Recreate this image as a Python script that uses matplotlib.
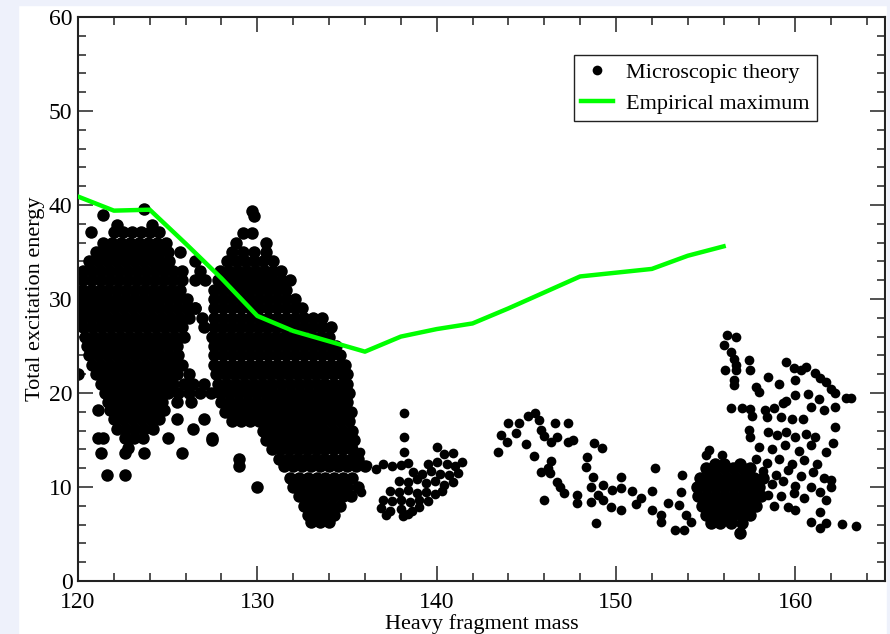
import numpy as np
import matplotlib as mpl
mpl.use('agg')
import matplotlib.pyplot as plt
from matplotlib.patches import Rectangle
from matplotlib.ticker import MultipleLocator

plt.rcParams['font.family'] = ['Liberation Serif', 'DejaVu Serif']

# empirical maximum (green line)
emp_mass = [120, 122, 124, 126, 128, 130, 132, 134, 136, 138, 140, 142, 144, 146, 148, 150, 152, 154, 156]
emp_energy = [40.9, 39.4, 39.5, 35.9, 32.2, 28.2, 26.6, 25.5, 24.4, 26.0, 26.8, 27.4, 29.0, 30.7, 32.4, 32.8, 33.2, 34.6, 35.6]

# microscopic theory, dense parts read row by row: (energy, [masses...])
cluster_a = [
    (39.6, [123.7]),
    (38.9, [121.4]),
    (37.9, [122.2, 124.1]),
    (37.1, [120.7, 122.0, 122.5, 123.0, 123.5, 124.0, 124.5]),
    (36.0, [121.4, 121.9, 122.4, 122.9, 123.4, 123.9, 124.4, 124.9]),
    (35.0, [121.0, 121.5, 122.0, 122.5, 123.0, 123.5, 124.0, 124.5, 125.0, 125.7]),
    (34.0, [120.6, 121.1, 121.6, 122.1, 122.6, 123.1, 123.6, 124.1, 124.6, 125.1, 126.5]),
    (33.0, [120.3, 120.8, 121.3, 121.8, 122.3, 122.8, 123.3, 123.8, 124.3, 124.8, 125.3, 125.8]),
    (32.0, [120.3, 120.8, 121.3, 121.8, 122.3, 122.8, 123.3, 123.8, 124.3, 124.8, 125.3, 125.8, 126.5, 127.1]),
    (31.0, [120.2, 120.7, 121.2, 121.7, 122.2, 122.7, 123.2, 123.7, 124.2, 124.7, 125.2, 125.7]),
    (30.0, [120.1, 120.6, 121.1, 121.6, 122.1, 122.6, 123.1, 123.6, 124.1, 124.6, 125.1, 125.6, 126.1]),
    (29.0, [120.0, 120.5, 121.0, 121.5, 122.0, 122.5, 123.0, 123.5, 124.0, 124.5, 125.0, 125.5, 126.0, 126.5]),
    (28.0, [120.2, 120.7, 121.2, 121.7, 122.2, 122.7, 123.2, 123.7, 124.2, 124.7, 125.2, 125.7, 126.2, 126.9]),
    (27.0, [120.3, 120.8, 121.3, 121.8, 122.3, 122.8, 123.3, 123.8, 124.3, 124.8, 125.3, 125.8]),
    (26.0, [120.4, 120.9, 121.4, 121.9, 122.4, 122.9, 123.4, 123.9, 124.4, 124.9, 125.4, 125.9]),
    (25.0, [120.5, 121.0, 121.5, 122.0, 122.5, 123.0, 123.5, 124.0, 124.5, 125.0, 125.5]),
    (24.0, [120.6, 121.1, 121.6, 122.1, 122.6, 123.1, 123.6, 124.1, 124.6, 125.1, 125.6]),
    (23.0, [120.8, 121.3, 121.8, 122.3, 122.8, 123.3, 123.8, 124.3, 124.8, 125.3, 125.8]),
    (22.0, [120.0, 121.0, 121.5, 122.0, 122.5, 123.0, 123.5, 124.0, 124.5, 125.0, 125.5, 126.2]),
    (21.0, [121.3, 121.8, 122.3, 122.8, 123.3, 123.8, 124.3, 124.8, 125.3, 125.9, 126.4, 127.0]),
    (20.0, [121.5, 122.0, 122.5, 123.0, 123.5, 124.0, 124.5, 125.0, 125.6, 126.2, 126.8, 127.4]),
    (19.0, [121.7, 122.2, 122.7, 123.2, 123.7, 124.2, 124.7, 125.5, 126.3]),
    (18.2, [121.1, 121.8, 122.3, 122.8, 123.3, 123.8, 124.3, 124.8]),
    (17.2, [122.0, 122.5, 123.0, 123.5, 124.0, 124.5, 125.5, 127.0]),
    (16.2, [122.2, 122.7, 123.2, 123.7, 124.2, 126.4]),
    (15.2, [121.1, 121.4, 122.6, 123.1, 123.6, 125.0, 127.5]),
    (14.2, [122.8]),
    (13.6, [121.3, 122.6, 123.7, 125.8]),
    (11.3, [121.6, 122.6]),
]

cluster_b = [
    (39.4, [129.7]),
    (38.8, [129.8]),
    (37.0, [129.2, 129.7]),
    (36.0, [128.8, 130.5]),
    (35.0, [128.6, 129.2, 129.8, 130.5]),
    (34.0, [128.3, 128.8, 129.3, 129.8, 130.3, 130.9]),
    (33.0, [126.8, 127.9, 128.4, 128.9, 129.4, 129.9, 130.4, 130.9, 131.3]),
    (32.0, [127.8, 128.3, 128.8, 129.3, 129.8, 130.3, 130.8, 131.3, 131.8]),
    (31.0, [127.6, 128.1, 128.6, 129.1, 129.6, 130.1, 130.6, 131.1, 131.6]),
    (30.0, [127.6, 128.1, 128.6, 129.1, 129.6, 130.1, 130.6, 131.1, 131.6, 132.1]),
    (29.0, [126.5, 127.6, 128.1, 128.6, 129.1, 129.6, 130.1, 130.6, 131.1, 131.6, 132.1, 132.5]),
    (28.0, [127.6, 128.1, 128.6, 129.1, 129.6, 130.1, 130.6, 131.1, 131.6, 132.1, 132.6, 133.1, 133.6]),
    (27.0, [127.0, 127.6, 128.1, 128.6, 129.1, 129.6, 130.1, 130.6, 131.1, 131.6, 132.1, 132.6, 133.1, 133.6, 134.1]),
    (26.0, [127.5, 128.0, 128.5, 129.0, 129.5, 130.0, 130.5, 131.0, 131.5, 132.0, 132.5, 133.0, 133.5, 134.0]),
    (25.0, [127.6, 128.1, 128.6, 129.1, 129.6, 130.1, 130.6, 131.1, 131.6, 132.1, 132.6, 133.1, 133.6, 134.1, 134.4]),
    (24.0, [127.6, 128.1, 128.6, 129.1, 129.6, 130.1, 130.6, 131.1, 131.6, 132.1, 132.6, 133.1, 133.6, 134.1, 134.6]),
    (23.0, [127.6, 128.1, 128.6, 129.1, 129.6, 130.1, 130.6, 131.1, 131.6, 132.1, 132.6, 133.1, 133.6, 134.1, 134.6, 134.9]),
    (22.0, [127.7, 128.2, 128.7, 129.2, 129.7, 130.2, 130.7, 131.2, 131.7, 132.2, 132.7, 133.2, 133.7, 134.2, 134.7, 135.0]),
    (21.0, [127.8, 128.3, 128.8, 129.3, 129.8, 130.3, 130.8, 131.3, 131.8, 132.3, 132.8, 133.3, 133.8, 134.3, 134.8, 135.0]),
    (20.0, [127.9, 128.4, 128.9, 129.4, 129.9, 130.4, 130.9, 131.4, 131.9, 132.4, 132.9, 133.4, 133.9, 134.4, 134.9, 135.1]),
    (19.0, [128.0, 128.5, 129.0, 129.5, 130.0, 130.5, 131.0, 131.5, 132.0, 132.5, 133.0, 133.5, 134.0, 134.5, 135.0]),
    (18.0, [128.2, 128.7, 129.2, 129.7, 130.2, 130.7, 131.2, 131.7, 132.2, 132.7, 133.2, 133.7, 134.2, 134.7, 135.2]),
    (17.0, [128.6, 129.1, 129.6, 130.1, 130.6, 131.1, 131.6, 132.1, 132.6, 133.1, 133.6, 134.1, 134.6, 135.1]),
    (16.0, [130.3, 130.8, 131.3, 131.8, 132.3, 132.8, 133.3, 133.8, 134.3, 134.8, 135.3]),
    (15.0, [127.5, 130.5, 131.0, 131.5, 132.0, 132.5, 133.0, 133.5, 134.0, 134.5, 135.0, 135.4]),
    (14.0, [130.8, 131.3, 131.8, 132.3, 132.8, 133.3, 133.8, 134.3, 134.8, 135.3]),
    (13.0, [129.0, 131.2, 131.7, 132.2, 132.7, 133.2, 133.7, 134.2, 134.7, 135.2, 135.6]),
    (12.2, [129.0, 131.5, 132.0, 132.5, 133.0, 133.5, 134.0, 134.5, 135.0, 135.5, 136.0]),
    (11.0, [131.8, 132.3, 132.8, 133.3, 133.8, 134.3, 134.8, 135.3]),
    (10.0, [130.0, 132.0, 132.5, 133.0, 133.5, 134.0, 134.5, 135.0, 135.6]),
    (9.0, [132.3, 132.8, 133.3, 133.8, 134.3, 134.8, 135.2]),
    (8.0, [132.6, 133.1, 133.6, 134.1, 134.6]),
    (7.0, [132.8, 133.3, 133.8, 134.3]),
    (6.3, [133.0, 133.5, 134.0]),
]

cluster_e_core = [
    (12.5, [155.5, 156.0, 156.9]),
    (12.0, [155.0, 155.5, 156.0, 156.5, 157.0, 157.5]),
    (11.0, [154.7, 155.2, 155.7, 156.2, 156.7, 157.2, 157.7, 158.2]),
    (10.0, [154.5, 155.0, 155.5, 156.0, 156.5, 157.0, 157.5, 158.0]),
    (9.0, [154.6, 155.1, 155.6, 156.1, 156.6, 157.1, 157.6, 158.1]),
    (8.0, [154.8, 155.3, 155.8, 156.3, 156.8, 157.3, 157.8]),
    (7.0, [155.0, 155.5, 156.0, 156.5, 157.0, 157.5]),
    (6.2, [155.3, 155.8, 156.4, 157.0]),
    (5.1, [156.9]),
]

# sparse parts read point by point: (mass, energy)
cluster_c = [
    (138.2, 17.9), (138.2, 15.3), (138.2, 13.7), (140.0, 14.3), (135.7, 13.7), (135.8, 9.5),
    (136.1, 12.3), (136.6, 11.9), (137.0, 12.4), (137.5, 12.2), (138.0, 12.3), (138.4, 12.6),
    (140.4, 13.5), (140.9, 13.6), (141.4, 12.7), (139.5, 12.5), (140.0, 12.7), (140.6, 12.4),
    (141.0, 12.2), (141.2, 11.5), (138.7, 11.6), (139.2, 11.4), (139.7, 11.7), (140.2, 11.4),
    (140.7, 11.3), (137.9, 10.6), (138.4, 10.5), (138.9, 10.8), (139.4, 10.4), (139.9, 10.6),
    (140.4, 10.2), (140.9, 10.5), (137.4, 9.6), (137.9, 9.5), (138.4, 9.7), (138.9, 9.4),
    (139.4, 9.5), (139.9, 9.3), (140.3, 9.6), (137.0, 8.6), (137.5, 8.5), (138.0, 8.6),
    (138.5, 8.4), (139.0, 8.6), (139.5, 8.5), (136.9, 7.8), (137.4, 7.5), (138.0, 7.7),
    (138.6, 7.5), (139.0, 7.9), (137.2, 7.0), (138.1, 6.9), (138.4, 7.1),
]

cluster_d = [
    (143.4, 13.7), (143.6, 15.5), (143.9, 14.8), (144.0, 16.8), (144.6, 16.8), (144.4, 15.7),
    (145.1, 17.6), (145.5, 17.9), (145.7, 17.1), (145.8, 16.1), (146.0, 15.4), (146.4, 14.8),
    (146.6, 16.8), (147.3, 16.8), (146.7, 15.3), (147.3, 14.8), (147.6, 15.0),
    (145.0, 14.6), (145.4, 13.3), (146.4, 12.8), (146.2, 12.0), (145.8, 11.6), (146.3, 11.5),
    (146.7, 10.5), (146.9, 10.0), (147.1, 9.4), (146.0, 8.6),
    (148.8, 14.7), (149.2, 14.1), (148.4, 13.2), (148.3, 12.1), (148.7, 11.1), (150.3, 11.1),
    (152.2, 12.0), (153.7, 11.3),
    (147.8, 9.2), (147.8, 8.3), (148.6, 10.0), (149.3, 10.2), (149.0, 9.2), (148.6, 8.4), (149.3, 8.6),
    (149.8, 9.7), (150.3, 9.9), (150.9, 9.6), (151.4, 8.8), (151.1, 8.2),
    (149.7, 7.9), (150.3, 7.6), (148.9, 6.2),
    (152.0, 9.6), (152.0, 7.6), (152.5, 7.0), (152.5, 6.3), (152.9, 8.3), (153.5, 8.1), (153.6, 9.5),
    (153.3, 5.4), (153.8, 5.4), (153.9, 7.0), (154.2, 6.3),
    (155.2, 13.9), (155.3, 11.8), (155.0, 13.4), (155.9, 13.4), (156.9, 12.5),
]

cluster_e = [
    (156.2, 26.2), (156.7, 26.0), (156.0, 25.1), (156.4, 24.4), (156.6, 23.6), (156.7, 23.0),
    (156.1, 22.4), (156.7, 22.4), (156.6, 21.4), (156.6, 20.8),
    (157.4, 23.5), (157.5, 22.4), (158.5, 21.7), (159.1, 21.0), (159.5, 23.3), (159.9, 22.7),
    (160.3, 22.4), (160.6, 22.8), (161.1, 22.1), (161.4, 21.6), (161.7, 21.2), (162.0, 20.4),
    (162.2, 20.0), (162.8, 19.5), (163.1, 19.5), (160.0, 21.4),
    (157.8, 20.6), (158.0, 20.1), (160.0, 19.8), (160.7, 19.9), (161.3, 19.4),
    (156.4, 18.4), (157.0, 18.4), (157.5, 18.3), (158.3, 18.2), (158.8, 18.4), (159.3, 18.9),
    (159.5, 19.1), (160.9, 18.5), (161.6, 18.2), (162.2, 18.5),
    (157.6, 17.6), (158.4, 17.4), (159.2, 17.4), (159.8, 17.2), (160.4, 17.2), (162.2, 16.4),
    (157.4, 16.1), (157.5, 15.3),
    (158.5, 15.8), (159.0, 15.5), (159.5, 15.9), (160.0, 15.3), (160.6, 15.6), (161.1, 15.3),
    (160.9, 14.5), (158.0, 14.3), (158.7, 14.0), (159.4, 14.5), (160.2, 13.8), (161.7, 13.7),
    (162.1, 14.7), (157.8, 13.0), (158.4, 12.6), (159.1, 13.0), (159.8, 12.5), (160.5, 12.9),
    (161.2, 12.4), (158.2, 11.7), (158.9, 11.3), (159.6, 11.8), (160.3, 11.2), (161.0, 11.6),
    (161.6, 11.0), (162.0, 10.7), (158.7, 10.3), (159.3, 10.6), (160.0, 10.1), (160.9, 10.0),
    (162.0, 10.0), (161.4, 9.5), (158.5, 9.2), (159.2, 9.0), (159.9, 9.4), (160.5, 8.8),
    (161.7, 8.6), (158.8, 8.0), (159.6, 7.9), (160.0, 7.6), (161.4, 7.3),
    (160.9, 6.3), (161.4, 5.6), (161.7, 6.2), (162.6, 6.1), (163.4, 5.9),
]

dense_x, dense_y = [], []
for rows in (cluster_a, cluster_b, cluster_e_core):
    for e, masses in rows:
        for m in masses:
            dense_x.append(m)
            dense_y.append(e)
sparse_x, sparse_y = [], []
for pts in (cluster_c, cluster_d, cluster_e):
    for m, e in pts:
        sparse_x.append(m)
        sparse_y.append(e)

fig = plt.figure(figsize=(8.9, 6.34), dpi=100)
fig.patch.set_facecolor('white')
strip = '#eef1fb'
fig.patches.append(Rectangle((0, 0), 18 / 890, 1, transform=fig.transFigure, color=strip, zorder=0))
fig.patches.append(Rectangle((0, 1 - 5 / 634), 1, 5 / 634, transform=fig.transFigure, color=strip, zorder=0))
fig.patches.append(Rectangle((887 / 890, 0), 3 / 890, 1, transform=fig.transFigure, color=strip, zorder=0))

ax = fig.add_axes([78 / 890, 53 / 634, 807 / 890, 564 / 634])
# the dense clouds are read on a coarse grid, so their dots are drawn a bit fuller
ax.plot(dense_x, dense_y, 'o', color='black', markersize=9.0, markeredgewidth=0, zorder=2)
ax.plot(sparse_x, sparse_y, 'o', color='black', markersize=7.0, markeredgewidth=0,
        label='Microscopic theory', zorder=2)
ax.plot(emp_mass, emp_energy, '-', color='#00ff00', linewidth=3.2,
        label='Empirical maximum', zorder=3)

ax.set_xlim(120, 165)
ax.set_ylim(0, 60)
ax.xaxis.set_major_locator(MultipleLocator(10))
ax.xaxis.set_minor_locator(MultipleLocator(2))
ax.yaxis.set_major_locator(MultipleLocator(10))
ax.yaxis.set_minor_locator(MultipleLocator(2))
ax.tick_params(which='both', direction='in', top=True, right=True, color='#222222',
               labelsize=17)
ax.tick_params(axis='x', pad=8)
ax.tick_params(axis='y', pad=4)
ax.tick_params(which='major', length=11, width=1.1)
ax.tick_params(which='minor', length=6, width=1.1)
for s in ax.spines.values():
    s.set_linewidth(1.5)
    s.set_color('#222222')

ax.set_xlabel('Heavy fragment mass', fontsize=16, labelpad=1)
ax.set_ylabel('Total excitation energy', fontsize=16, labelpad=3)

leg = ax.legend(loc='upper right', bbox_to_anchor=(0.916, 0.933), fontsize=16,
                frameon=True, fancybox=False, framealpha=1, edgecolor='#222222',
                handlelength=1.4, handletextpad=0.6, borderaxespad=0,
                borderpad=0.35, labelspacing=0.45)
leg.get_frame().set_linewidth(1.0)

fig.savefig('out.png', dpi=100)
